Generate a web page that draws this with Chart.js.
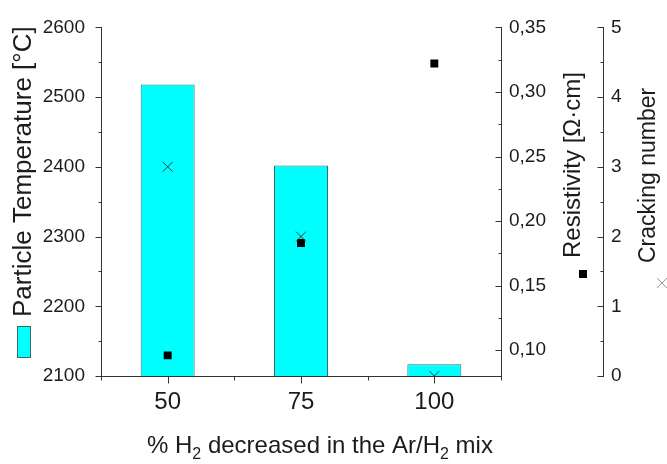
<!DOCTYPE html>
<html>
<head>
<meta charset="utf-8">
<script src="https://cdn.jsdelivr.net/npm/chart.js@4"></script>
<style>
  html, body { margin: 0; padding: 0; background: #fff; overflow: hidden; }
  canvas { display: block; }
</style>
</head>
<body>
<canvas id="chart" width="667" height="464"></canvas>
<script>
// Hydrogen reduction levels and the three measured quantities
const h2Levels = [50, 75, 100];
const particleTemp = [2518, 2402, 2117];
const resistivity = [0.096, 0.183, 0.322];
const crackingNumber = [3, 2, 0];

// Axis tick labels
const xTicks = [50, 75, 100];
const tempTicks = [2100, 2200, 2300, 2400, 2500, 2600];
const resistivityTicks = [0.10, 0.15, 0.20, 0.25, 0.30, 0.35];
const crackingTicks = [0, 1, 2, 3, 4, 5];

const FONT = '"Liberation Sans", Arial, Helvetica, sans-serif';
const INK = '#1c1c1c';
const AXIS = '#333333';
const CYAN = '#00ffff';
const BAR_EDGE = '#2f6f6f';

const toPoints = (vals) => vals.map((v, i) => ({ x: h2Levels[i], y: v }));
const setTicks = (list) => (scale) => { scale.ticks = list.map(v => ({ value: v })); };
const comma = (v) => v.toFixed(2).replace('.', ',');

// Short tick marks: majors at each tick, minors half-way between
function tickMarks(ctx, scale, dir, majorLen, minorLen, extraMinors) {
  const vals = scale.ticks.map(t => t.value);
  const minors = [];
  for (let i = 0; i < vals.length - 1; i++) minors.push((vals[i] + vals[i + 1]) / 2);
  (extraMinors || []).forEach(v => minors.push(v));
  const draw = (v, len) => {
    if (v < scale.min - 1e-9 || v > scale.max + 1e-9) return;
    const p = Math.round(scale.getPixelForValue(v)) + 0.5;
    ctx.beginPath();
    if (dir === 'left' || dir === 'right') {
      const x0 = scale.position === 'left' ? scale.right : scale.left;
      const xa = Math.round(x0) + 0.5;
      ctx.moveTo(xa, p);
      ctx.lineTo(xa + (dir === 'left' ? -len : len), p);
    } else {
      const ya = Math.round(scale.top) + 0.5;
      ctx.moveTo(p, ya);
      ctx.lineTo(p, ya + len);
    }
    ctx.stroke();
  };
  vals.forEach(v => draw(v, majorLen));
  minors.forEach(v => draw(v, minorLen));
}

function rotatedText(ctx, text, x, y, size) {
  ctx.save();
  ctx.translate(x, y);
  ctx.rotate(-Math.PI / 2);
  ctx.font = size + 'px ' + FONT;
  ctx.textAlign = 'left';
  ctx.textBaseline = 'alphabetic';
  ctx.fillText(text, 0, 0);
  ctx.restore();
}

const decorations = {
  id: 'decorations',
  afterDraw(chart) {
    const ctx = chart.ctx;
    const s = chart.scales;
    ctx.save();
    ctx.strokeStyle = AXIS;
    ctx.lineWidth = 1;
    tickMarks(ctx, s.y, 'left', 6, 3);
    tickMarks(ctx, s.yRes, 'left', 6, 3);
    tickMarks(ctx, s.yCrack, 'left', 6, 3);
    tickMarks(ctx, s.x, 'down', 7, 4, [37.5, 112.5]);

    ctx.fillStyle = INK;
    // Axis titles
    rotatedText(ctx, 'Particle Temperature [\u00b0C]', 31, 317, 26);
    rotatedText(ctx, 'Resistivity [\u03a9\u00b7cm]', 580, 258, 24);
    rotatedText(ctx, 'Cracking number', 655, 263, 23);

    // x title with subscripts
    const parts = [['% H', false], ['2', true], [' decreased in the Ar/H', false], ['2', true], [' mix', false]];
    let x = 147;
    const base = 453;
    ctx.textBaseline = 'alphabetic';
    ctx.textAlign = 'left';
    parts.forEach(([t, sub]) => {
      ctx.font = (sub ? 16 : 24) + 'px ' + FONT;
      ctx.fillText(t, x, sub ? base + 6 : base);
      x += ctx.measureText(t).width;
    });

    // Series keys beside the titles
    ctx.fillStyle = CYAN;
    ctx.fillRect(17, 326, 13, 31);
    ctx.strokeStyle = BAR_EDGE;
    ctx.strokeRect(17.5, 326.5, 13, 31);
    ctx.fillStyle = '#000';
    ctx.fillRect(579, 270, 8, 8);
    ctx.strokeStyle = '#9a9a9a';
    ctx.beginPath();
    ctx.moveTo(657, 278); ctx.lineTo(667, 288);
    ctx.moveTo(667, 278); ctx.lineTo(657, 288);
    ctx.stroke();
    ctx.restore();
  }
};

const tickFont = { family: FONT, size: 19 };
const noGrid = { display: false, drawTicks: false };

new Chart(document.getElementById('chart'), {
  type: 'bar',
  data: {
    datasets: [
      {
        type: 'line',
        label: 'Cracking number',
        data: toPoints(crackingNumber),
        xAxisID: 'x',
        yAxisID: 'yCrack',
        showLine: false,
        clip: 0,
        pointStyle: 'crossRot',
        pointRadius: 7,
        pointBorderWidth: 1,
        pointBorderColor: '#3a3a3a',
        pointBackgroundColor: '#3a3a3a',
        order: 1
      },
      {
        type: 'line',
        label: 'Resistivity',
        data: toPoints(resistivity),
        xAxisID: 'x',
        yAxisID: 'yRes',
        showLine: false,
        pointStyle: 'rect',
        pointRadius: 5.6,
        pointBorderWidth: 0,
        pointBackgroundColor: '#000',
        pointBorderColor: '#000',
        order: 2
      },
      {
        type: 'bar',
        label: 'Particle Temperature',
        data: toPoints(particleTemp),
        xAxisID: 'x',
        yAxisID: 'y',
        backgroundColor: CYAN,
        borderColor: BAR_EDGE,
        borderWidth: 1,
        barPercentage: 0.405,
        categoryPercentage: 1,
        order: 3
      }
    ]
  },
  options: {
    responsive: false,
    animation: false,
    devicePixelRatio: 1,
    layout: { padding: { top: 22, left: 0, right: 0, bottom: 0 } },
    plugins: { legend: { display: false }, tooltip: { enabled: false } },
    scales: {
      x: {
        type: 'linear',
        position: 'bottom',
        min: 37.5,
        max: 112.5,
        offset: false,
        afterBuildTicks: setTicks(xTicks),
        afterFit: (sc) => { sc.height = 88; },
        grid: noGrid,
        border: { display: true, color: AXIS, width: 1 },
        ticks: { font: { family: FONT, size: 24 }, color: INK, padding: 12, maxRotation: 0, autoSkip: false, callback: (v) => String(v) }
      },
      y: {
        type: 'linear',
        position: 'left',
        min: 2100,
        max: 2600,
        afterBuildTicks: setTicks(tempTicks),
        afterFit: (sc) => { sc.width = 101; },
        grid: noGrid,
        border: { display: true, color: AXIS, width: 1 },
        ticks: { font: tickFont, color: INK, padding: 16, callback: (v) => String(v) }
      },
      yRes: {
        type: 'linear',
        position: 'right',
        weight: 0,
        min: 0.08,
        max: 0.35,
        afterBuildTicks: setTicks(resistivityTicks),
        afterFit: (sc) => { sc.width = 102; },
        grid: noGrid,
        border: { display: true, color: AXIS, width: 1 },
        ticks: { font: tickFont, color: INK, padding: 8, callback: (v) => comma(v) }
      },
      yCrack: {
        type: 'linear',
        position: 'right',
        weight: 1,
        min: 0,
        max: 5,
        afterBuildTicks: setTicks(crackingTicks),
        afterFit: (sc) => { sc.width = 64; },
        grid: noGrid,
        border: { display: true, color: AXIS, width: 1 },
        ticks: { font: tickFont, color: INK, padding: 8, callback: (v) => String(v) }
      }
    }
  },
  plugins: [decorations]
});
</script>
</body>
</html>
